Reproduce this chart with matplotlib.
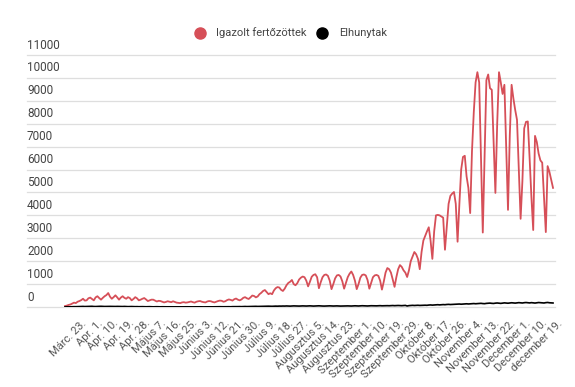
import matplotlib
matplotlib.use('Agg')
import matplotlib.pyplot as plt
import numpy as np
from matplotlib.lines import Line2D
import matplotlib.transforms as mtransforms

plt.rcParams['font.family'] = ['Roboto', 'DejaVu Sans']

# ---- data (daily values from Márc. 23. to december 19.) ----
cases = [
    40, 60, 90, 110, 150, 190, 170, 230, 260, 300,
    360, 280, 290, 380, 410, 350, 290, 420, 470, 390,
    320, 400, 470, 520, 610, 450, 360, 430, 510, 420,
    320, 410, 470, 400, 360, 430, 390, 290, 350, 430,
    380, 290, 320, 360, 390, 330, 260, 290, 320, 320,
    280, 240, 270, 260, 230, 200, 220, 250, 230, 210,
    250, 220, 190, 180, 170, 200, 210, 190, 200, 220,
    240, 210, 190, 230, 250, 260, 230, 210, 200, 240,
    260, 250, 220, 200, 230, 260, 280, 270, 230, 250,
    300, 330, 310, 280, 340, 370, 320, 290, 330, 400,
    430, 380, 350, 420, 500, 480, 420, 460, 560, 620,
    700, 740, 650, 560, 600, 560, 720, 820, 870, 850,
    750, 700, 800, 950, 1050, 1100, 1180, 1000, 950, 1040,
    1200, 1280, 1330, 1300, 1150, 900, 1100, 1320, 1400, 1430,
    1300, 820, 1080, 1300, 1400, 1420, 1360, 1150, 780, 1000,
    1250, 1380, 1400, 1330, 1120, 800, 1050, 1300, 1450, 1550,
    1400, 1150, 780, 1000, 1280, 1400, 1420, 1380, 1180, 800,
    1050, 1300, 1380, 1400, 1360, 1150, 760, 1100, 1500, 1700,
    1650, 1500, 1200, 880, 1300, 1650, 1830, 1750, 1600, 1500,
    1310, 1600, 2000, 2200, 2400, 2300, 2100, 1650, 2400, 2900,
    3100, 3300, 3480, 2900, 2100, 3300, 4000, 4020, 4000, 3950,
    3900, 2500, 3500, 4500, 4850, 4950, 5020, 4500, 2850, 4500,
    6000, 6550, 6600, 5700, 5200, 4100, 6800, 8500, 9800, 10250,
    9800, 6500, 3250, 6500, 9900, 10150, 9550, 9480, 7200, 4980,
    8000, 10250, 9800, 9300, 9700, 7000, 4240, 7500, 9700, 9100,
    8600, 8170, 6000, 3850, 5500, 7800, 8080, 8100, 6500, 4800,
    3360, 7470, 7200, 6700, 6400, 6300, 4800, 3270, 6150, 5900,
    5550, 5200,
]

deaths = [
    5, 8, 6, 10, 12, 15, 14, 18, 20, 22,
    25, 20, 23, 28, 25, 30, 22, 20, 25, 28,
    30, 26, 22, 24, 28, 26, 24, 20, 22, 25,
    22, 18, 20, 24, 20, 16, 18, 20, 15, 14,
    16, 12, 14, 15, 12, 10, 12, 14, 10, 8,
    10, 12, 9, 8, 10, 7, 8, 9, 6, 8,
    7, 6, 8, 5, 6, 7, 5, 6, 8, 6,
    5, 6, 7, 5, 6, 8, 6, 5, 7, 6,
    8, 6, 7, 9, 8, 10, 12, 9, 10, 12,
    14, 12, 10, 15, 14, 12, 16, 18, 15, 20,
    22, 18, 20, 24, 22, 25, 28, 24, 26, 30,
    32, 28, 30, 35, 32, 30, 34, 38, 35, 40,
    38, 42, 40, 45, 42, 38, 44, 48, 45, 42,
    40, 45, 48, 44, 42, 46, 50, 45, 40, 44,
    48, 52, 45, 42, 40, 44, 48, 50, 46, 42,
    45, 48, 44, 40, 42, 46, 50, 48, 44, 42,
    46, 52, 48, 44, 50, 55, 52, 48, 45, 50,
    55, 52, 48, 50, 56, 58, 52, 55, 60, 58,
    55, 60, 64, 58, 62, 66, 60, 58, 65, 70,
    45, 60, 68, 72, 66, 70, 75, 68, 72, 80,
    78, 74, 85, 90, 82, 88, 95, 100, 92, 98,
    105, 100, 110, 115, 108, 112, 120, 118, 125, 130,
    122, 128, 135, 140, 132, 138, 145, 150, 142, 148,
    155, 160, 150, 145, 158, 165, 170, 160, 155, 168,
    175, 165, 158, 170, 180, 172, 165, 175, 185, 178,
    170, 180, 190, 182, 175, 188, 195, 185, 178, 190,
    180, 172, 185, 195, 188, 180, 175, 190, 198, 185,
    180, 175,
]

x_labels = [
    "Márc. 23.", "Apr. 1.", "Apr. 10.", "Apr. 19.", "Apr. 28.", "Május 7.",
    "Május 16.", "Május 25.", "Június 3.", "Június 12.", "Június 21.",
    "Június 30.", "Július 9.", "Július 18.", "Július 27.", "Augusztus 5.",
    "Augusztus 14.", "Augusztus 23.", "Szeptember 1.", "Szeptember 10.",
    "Szeptember 19.", "Szeptember 29.", "Október 8.", "Október 17.",
    "Október 26.", "November 4.", "November 13.", "November 22.",
    "December 1.", "December 10.", "december 19.",
]

y_ticks = [0, 1000, 2000, 3000, 4000, 5000, 6000, 7000, 8000, 9000, 10000, 11000]
series_names = ["Igazolt fertőzöttek", "Elhunytak"]
series_colors = ["#d64f58", "#000000"]

# ---- figure ----
W, H = 575, 387
fig = plt.figure(figsize=(W / 100, H / 100), dpi=100)
ax = fig.add_axes([27 / W, 80 / H, 528 / W, 252 / H])
ax.set_xlim(-21.1, 272.1)
ax.set_ylim(0, 11000)
for s in ax.spines.values():
    s.set_visible(False)
ax.set_xticks([])
ax.set_yticks([])

for v in y_ticks:
    ax.axhline(v, color='#dedede', lw=0.9, zorder=0, clip_on=False)
    off = mtransforms.ScaledTranslation(0, 2.5 / 72, fig.dpi_scale_trans)
    ax.text(0, v, str(v), transform=ax.get_yaxis_transform() + off,
            ha='left', va='bottom', fontsize=8.5, color='#444444')

ax.plot(np.arange(len(cases)), cases, color=series_colors[0], lw=1.3,
        zorder=3, solid_joinstyle='round')
ax.plot(np.arange(len(deaths)), deaths, color=series_colors[1], lw=1.2,
        zorder=4, solid_joinstyle='round')

# x labels
pos = np.linspace(9.0, 273.5, len(x_labels))
xoff = mtransforms.ScaledTranslation(0, -8 / 72, fig.dpi_scale_trans)
for p, lab in zip(pos, x_labels):
    ax.text(p, 0, lab, transform=ax.get_xaxis_transform() + xoff,
            rotation=45, rotation_mode='anchor', ha='right', va='top',
            fontsize=8, color='#555555', clip_on=False)

# legend
ly = 1 - 33 / H
fig.add_artist(Line2D([200 / W], [ly], marker='o', markersize=8,
                      color=series_colors[0], linestyle='none'))
fig.text(216 / W, ly, series_names[0], ha='left', va='center', fontsize=8,
         color='#444444')
fig.add_artist(Line2D([322 / W], [ly], marker='o', markersize=8,
                      color=series_colors[1], linestyle='none'))
fig.text(339 / W, ly, series_names[1], ha='left', va='center', fontsize=8,
         color='#444444')

fig.savefig('out.png', dpi=100)
